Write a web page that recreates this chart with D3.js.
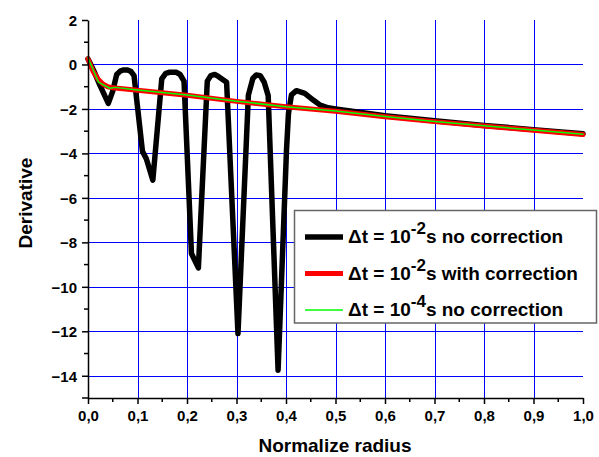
<!DOCTYPE html>
<html><head><meta charset="utf-8">
<script src="https://cdn.jsdelivr.net/npm/d3@7"></script>
<style>body{margin:0;background:#fff}svg{display:block}text{font-family:"Liberation Sans",Arial,sans-serif;font-weight:bold;fill:#000}</style>
</head><body>
<script>
// Data
const blackX = [0,0.012,0.024,0.041,0.05,0.058,0.065,0.071,0.08,0.087,0.093,0.11,0.118,0.131,0.149,0.157,0.165,0.178,0.186,0.194,0.209,0.223,0.241,0.248,0.256,0.264,0.28,0.303,0.324,0.333,0.34,0.348,0.356,0.364,0.384,0.401,0.405,0.411,0.421,0.438,0.455,0.469,0.485,0.5,0.6,0.7,0.8,0.9,1.0];
const blackY = [0.25,-0.3,-0.93,-1.75,-1.2,-0.45,-0.3,-0.25,-0.25,-0.32,-0.5,-3.9,-4.25,-5.2,-0.65,-0.4,-0.35,-0.35,-0.45,-0.75,-8.5,-9.15,-0.75,-0.5,-0.45,-0.55,-0.8,-12.1,-1.38,-0.63,-0.47,-0.5,-0.8,-1.4,-13.75,-3.85,-2.2,-1.37,-1.18,-1.3,-1.6,-1.83,-1.95,-2.0,-2.3,-2.53,-2.74,-2.93,-3.12];
const redX = [0,0.01,0.02,0.03,0.04,0.05,0.1,0.2,0.3,0.4,0.5,0.6,0.7,0.8,0.9,1.0];
const redY = [0.25,-0.3,-0.65,-0.88,-1.0,-1.05,-1.16,-1.38,-1.66,-1.9,-2.1,-2.35,-2.57,-2.77,-2.96,-3.15];
const greenX = [0,0.021,0.044,0.055,0.1,0.2,0.3,0.4,0.5,0.6,0.7,0.8,0.9,1.0];
const greenY = [0.3,-0.79,-1.07,-1.03,-1.15,-1.37,-1.65,-1.9,-2.09,-2.34,-2.56,-2.76,-2.95,-3.14];
const xTicks = [0,0.1,0.2,0.3,0.4,0.5,0.6,0.7,0.8,0.9,1.0];
const yTicks = [2,0,-2,-4,-6,-8,-10,-12,-14];
const legendLabels = [
  {pre:"\u0394t = 10", sup:"-2", post:"s no correction"},
  {pre:"\u0394t = 10", sup:"-2", post:"s with correction"},
  {pre:"\u0394t = 10", sup:"-4", post:"s no correction"}
];
const seriesColors = ["#000000","#ff0000","#00ff00"];
const seriesWidths = [5.5,5,1.5];

const W=599,H=457;
const svg=d3.select("body").append("svg").attr("width",W).attr("height",H);
const x=d3.scaleLinear().domain([0,1]).range([88,583]);
const y=d3.scaleLinear().domain([-15,2]).range([398,20]);
const fmt=d=>d3.format(".1f")(d).replace(".",",");

// grid
const grid=svg.append("g").attr("stroke","#0000ff").attr("stroke-width",1).attr("shape-rendering","crispEdges");
xTicks.filter(d=>d>0&&d<1).forEach(d=>grid.append("line").attr("x1",Math.round(x(d))+0.5).attr("x2",Math.round(x(d))+0.5).attr("y1",y(2)).attr("y2",y(-15)));
yTicks.filter(d=>d<2).forEach(d=>grid.append("line").attr("x1",x(0)).attr("x2",x(1)).attr("y1",Math.round(y(d))+0.5).attr("y2",Math.round(y(d))+0.5));

// curves
const series=[[blackX,blackY],[redX,redY],[greenX,greenY]];
const line=d3.line().x(d=>x(d[0])).y(d=>y(d[1]));
series.forEach((s,i)=>{
  const pts=s[0].map((v,j)=>[v,s[1][j]]);
  svg.append("path").attr("d",line(pts)).attr("fill","none").attr("stroke",seriesColors[i]).attr("stroke-width",seriesWidths[i]).attr("stroke-linejoin","round").attr("stroke-linecap","round");
});

// axes
const xAxis=d3.axisBottom(x).tickValues(xTicks).tickFormat(fmt).tickSize(6).tickSizeOuter(0);
const gx=svg.append("g").attr("transform","translate(0,398)").call(xAxis);
const yAxis=d3.axisLeft(y).tickValues(yTicks).tickFormat(d3.format("d")).tickSize(6).tickSizeOuter(0);
const gy=svg.append("g").attr("transform","translate(88,0)").call(yAxis);
[gx,gy].forEach(g=>{g.select(".domain").attr("stroke","#000").attr("stroke-width",1.5);g.selectAll(".tick line").attr("stroke","#000").attr("stroke-width",1.5);g.selectAll("text").style("font-size","15px").style("font-family","Liberation Sans, Arial, sans-serif").style("font-weight","bold").attr("fill","#000");});
gx.selectAll("text").attr("dy","0.9em").attr("y",9);
gy.selectAll("text").attr("x",-11).attr("dy","0.35em");
// minor ticks
const xMinor=d3.range(0.05,1,0.1);
svg.append("g").selectAll("line").data(xMinor).join("line").attr("x1",d=>x(d)).attr("x2",d=>x(d)).attr("y1",398).attr("y2",402).attr("stroke","#000").attr("stroke-width",1.5);
const yMinor=d3.range(1,-15,-2);
svg.append("g").selectAll("line").data(yMinor).join("line").attr("x1",84).attr("x2",88).attr("y1",d=>y(d)).attr("y2",d=>y(d)).attr("stroke","#000").attr("stroke-width",1.5);
svg.append("line").attr("x1",82).attr("x2",88).attr("y1",398).attr("y2",398).attr("stroke","#000").attr("stroke-width",1.5);

// axis titles
svg.append("text").attr("x",335).attr("y",452).attr("text-anchor","middle").style("font-size","19px").text("Normalize radius");
svg.append("text").attr("transform","translate(32,203) rotate(-90)").attr("text-anchor","middle").style("font-size","19px").text("Derivative");

// legend
const lg=svg.append("g");
lg.append("rect").attr("x",294.5).attr("y",210.5).attr("width",302).attr("height",112.5).attr("fill","#fff").attr("stroke","#666").attr("stroke-width",1.5);
legendLabels.forEach((l,i)=>{
  const by=243+i*36.5;
  lg.append("line").attr("x1",305).attr("x2",343).attr("y1",by-6).attr("y2",by-6).attr("stroke",seriesColors[i]).attr("stroke-width",seriesWidths[i]);
  const t=lg.append("text").attr("x",348).attr("y",by).style("font-size","19px");
  t.append("tspan").text(l.pre);
  t.append("tspan").attr("dy",-9).style("font-size","17px").text(l.sup);
  t.append("tspan").attr("dy",9).text(l.post);
});
</script>
</body></html>
